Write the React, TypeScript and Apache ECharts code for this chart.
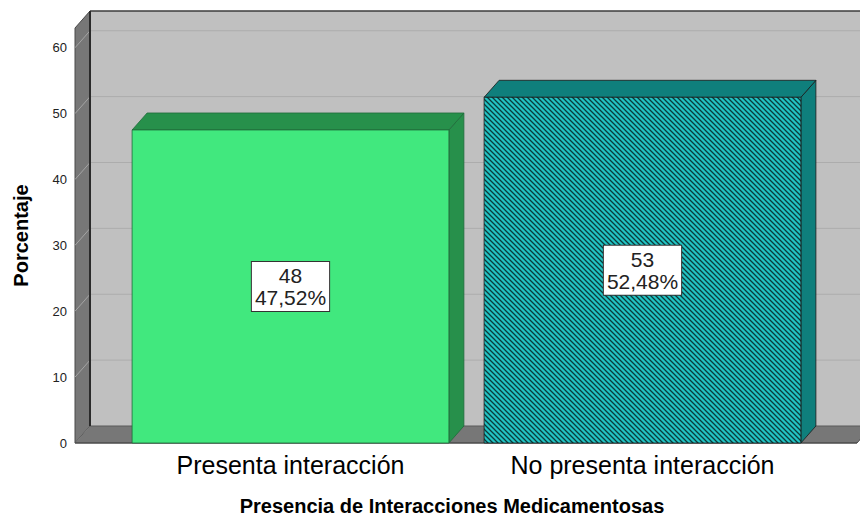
import React, { useEffect, useRef } from "react";
import * as echarts from "echarts";

const categories = ["Presenta interacción", "No presenta interacción"];
const percentages = [47.52, 52.48];
const counts = [48, 53];
const yTicks = [0, 10, 20, 30, 40, 50, 60];
const yMin = 0;
const yMax = 63;
const yInterval = 10;

const FONT = "'Liberation Sans', Arial, Helvetica, sans-serif";
const DX = 15;
const DY = 17;
const GAP_L = 39.5;
const GAP_R = 38.5;

const frontFills: any[] = [
  "#41e87e",
  {
    image:
      "data:image/svg+xml;charset=utf-8," +
      encodeURIComponent(
        "<svg xmlns='http://www.w3.org/2000/svg' width='5' height='5'><rect width='5' height='5' fill='#21c3c3'/><path d='M0,0L5,5M-1,4L1,6M4,-1L6,1' stroke='#0b3a3a' stroke-width='1.3'/></svg>"
      ),
    repeat: "repeat",
    imageWidth: 5,
    imageHeight: 5,
  },
];
const sideFills = ["#27904b", "#0f7f7c"];
const outline = ["#1f6b3a", "#1a1a1a"];

const fmtPct = (p: number) => p.toFixed(2).replace(".", ",") + "%";

function renderWalls(params: any, api: any) {
  const cs = params.coordSys;
  const yB = api.coord([0, yMin])[1];
  const yT = cs.y;
  const L = cs.x - GAP_L;
  const R = cs.x + cs.width + GAP_R;
  const children: any[] = [];
  children.push({
    type: "rect",
    shape: { x: L + DX, y: yT - DY, width: R - L, height: yB - yT },
    style: { fill: "#c0c0c0" },
  });
  yTicks.forEach((t) => {
    if (t === yMin) return;
    const y = api.coord([0, t])[1];
    children.push({
      type: "line",
      shape: { x1: L + DX, y1: y - DY, x2: R + DX, y2: y - DY },
      style: { stroke: "#acacac", lineWidth: 1 },
    });
  });
  children.push({
    type: "polygon",
    shape: {
      points: [
        [L, yT],
        [L + DX, yT - DY],
        [L + DX, yB - DY],
        [L, yB],
      ],
    },
    style: { fill: "#777777", stroke: "#4a4a4a", lineWidth: 1 },
  });
  yTicks.forEach((t) => {
    if (t === yMin) return;
    const y = api.coord([0, t])[1];
    children.push({
      type: "line",
      shape: { x1: L, y1: y, x2: L + DX, y2: y - DY },
      style: { stroke: "#a4a4a4", lineWidth: 1 },
    });
  });
  children.push({
    type: "polygon",
    shape: {
      points: [
        [L, yB],
        [L + DX, yB - DY],
        [R + DX, yB - DY],
        [R, yB],
      ],
    },
    style: { fill: "#777777" },
  });
  children.push({
    type: "line",
    shape: { x1: L + DX, y1: yB - DY, x2: R + DX, y2: yB - DY },
    style: { stroke: "#5a5a5a", lineWidth: 1 },
  });
  children.push({
    type: "line",
    shape: { x1: L + DX, y1: yT - DY, x2: R + DX, y2: yT - DY },
    style: { stroke: "#3c3c3c", lineWidth: 1.5 },
  });
  children.push({
    type: "line",
    shape: { x1: L + DX, y1: yT - DY, x2: L + DX, y2: yB - DY },
    style: { stroke: "#2a2a2a", lineWidth: 2 },
  });
  children.push({
    type: "line",
    shape: { x1: L, y1: yB, x2: R, y2: yB },
    style: { stroke: "#4a4a4a", lineWidth: 1.5 },
  });
  children.push({
    type: "line",
    shape: { x1: R, y1: yB, x2: R + DX, y2: yB - DY },
    style: { stroke: "#4a4a4a", lineWidth: 1 },
  });
  return { type: "group", children };
}

function renderBar(params: any, api: any) {
  const i = params.dataIndex;
  const cat = api.value(0);
  const val = api.value(1);
  const cnt = api.value(2);
  const top = api.coord([cat, val]);
  const base = api.coord([cat, yMin]);
  const bw = api.size([1, 0])[0] * 0.9;
  const x0 = top[0] - bw / 2;
  const x1 = top[0] + bw / 2;
  const yT = top[1];
  const yB = base[1];
  const sw = 0.8;
  return {
    type: "group",
    children: [
      {
        type: "polygon",
        shape: {
          points: [
            [x1, yT],
            [x1 + DX, yT - DY],
            [x1 + DX, yB - DY],
            [x1, yB],
          ],
        },
        style: { fill: sideFills[i], stroke: outline[i], lineWidth: sw },
      },
      {
        type: "polygon",
        shape: {
          points: [
            [x0, yT],
            [x0 + DX, yT - DY],
            [x1 + DX, yT - DY],
            [x1, yT],
          ],
        },
        style: { fill: sideFills[i], stroke: outline[i], lineWidth: sw },
      },
      {
        type: "rect",
        shape: { x: x0, y: yT, width: bw, height: yB - yT },
        style: { fill: frontFills[i], stroke: outline[i], lineWidth: sw },
      },
      {
        type: "text",
        x: (x0 + x1) / 2,
        y: (yT + yB) / 2,
        style: {
          text: cnt + "\n" + fmtPct(val),
          fill: "#222222",
          font: "21px " + FONT,
          align: "center",
          verticalAlign: "middle",
          lineHeight: 22,
          backgroundColor: "#ffffff",
          borderColor: "#333333",
          borderWidth: 1,
          padding: [3, 3, 2, 3],
        },
      },
    ],
  };
}

export default function App() {
  const ref = useRef<HTMLDivElement>(null);
  useEffect(() => {
    if (!ref.current) return;
    const chart = echarts.init(ref.current, null, { renderer: "svg" });
    const barData = categories.map((_, i) => [i, percentages[i], counts[i]]);
    chart.setOption({
      animation: false,
      backgroundColor: "#ffffff",
      grid: {
        left: 114.5,
        right: 41.5,
        top: 28,
        bottom: 74,
        containLabel: false,
        outerBoundsMode: "none",
      },
      xAxis: {
        type: "category",
        data: categories,
        axisLine: { show: false },
        axisTick: { show: false },
        splitLine: { show: false },
        axisLabel: {
          margin: 9,
          fontSize: 25,
          color: "#000000",
          fontFamily: FONT,
          interval: 0,
        },
        name: "Presencia de Interacciones Medicamentosas",
        nameLocation: "middle",
        nameGap: 53,
        nameTextStyle: {
          fontSize: 20,
          fontWeight: "bold",
          color: "#000000",
          fontFamily: FONT,
          padding: [0, 29, 0, 0],
        },
      },
      yAxis: {
        type: "value",
        min: yMin,
        max: yMax,
        interval: yInterval,
        offset: GAP_L,
        axisLine: { show: false },
        axisTick: { show: false },
        splitLine: { show: false },
        axisLabel: {
          margin: 8,
          fontSize: 13,
          color: "#222222",
          fontFamily: FONT,
          formatter: (v: number) => (yTicks.includes(v) ? String(v) : ""),
        },
        name: "Porcentaje",
        nameLocation: "middle",
        nameGap: 44,
        nameTextStyle: {
          fontSize: 20,
          fontWeight: "bold",
          color: "#000000",
          fontFamily: FONT,
        },
      },
      series: [
        {
          type: "custom",
          z: 1,
          silent: true,
          clip: false,
          renderItem: renderWalls,
          data: [[0, 0]],
          encode: { x: 0, y: 1 },
        },
        {
          type: "custom",
          z: 2,
          silent: true,
          clip: false,
          renderItem: renderBar,
          data: barData,
          encode: { x: 0, y: 1 },
        },
      ],
    });
    return () => chart.dispose();
  }, []);
  return (
    <div
      ref={ref}
      style={{
        position: "fixed",
        left: 0,
        top: 0,
        width: 860,
        height: 517,
        background: "#ffffff",
      }}
    />
  );
}
